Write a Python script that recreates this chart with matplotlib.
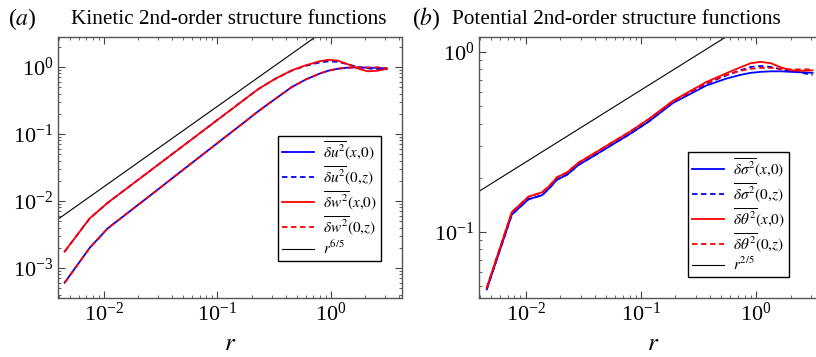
import numpy as np
import matplotlib
matplotlib.use("Agg")
import matplotlib.pyplot as plt
from matplotlib.ticker import LogLocator, NullFormatter

plt.rcParams['font.family'] = ['Liberation Serif', 'DejaVu Serif']
plt.rcParams['mathtext.fontset'] = 'stix'

# ---- panel (a): kinetic structure functions ----
r_a = [0.0045, 0.0075, 0.0108, 0.015, 0.0213, 0.03, 0.042, 0.06, 0.085, 0.12,
       0.17, 0.23, 0.32, 0.45, 0.6, 0.8, 0.95, 1.15, 1.4, 1.75, 2.1, 2.6, 3.1]
du2_x = [6.0e-4, 2.0e-3, 3.9e-3, 6.0e-3, 9.5e-3, 0.0149, 0.0233, 0.0373, 0.059, 0.093,
         0.147, 0.22, 0.33, 0.50, 0.65, 0.80, 0.88, 0.94, 0.975, 0.985, 0.98, 0.965, 0.95]
du2_z = [1.75e-3, 5.5e-3, 9.4e-3, 0.0143, 0.0224, 0.0347, 0.0534, 0.0843, 0.1317, 0.205,
         0.32, 0.47, 0.66, 0.88, 1.04, 1.17, 1.21, 1.19, 1.10, 0.99, 0.95, 0.93, 0.92]
dw2_x = [1.75e-3, 5.5e-3, 9.4e-3, 0.0143, 0.0224, 0.0347, 0.0534, 0.0843, 0.1317, 0.205,
         0.32, 0.47, 0.66, 0.89, 1.06, 1.22, 1.28, 1.24, 1.10, 0.94, 0.86, 0.88, 0.94]
dw2_z = [6.0e-4, 2.0e-3, 3.9e-3, 6.0e-3, 9.5e-3, 0.0149, 0.0233, 0.0373, 0.059, 0.093,
         0.147, 0.22, 0.33, 0.50, 0.65, 0.80, 0.88, 0.94, 0.975, 0.985, 0.975, 0.99, 0.96]
slope_a, amp_a = 6 / 5, 4.1

# ---- panel (b): potential structure functions ----
r_b = [0.0046, 0.0076, 0.0106, 0.0139, 0.0162, 0.0187, 0.0229, 0.0289, 0.0404, 0.0563,
       0.0787, 0.117, 0.19, 0.37, 0.55, 0.73, 0.9, 1.1, 1.35, 1.65, 2.0, 2.5, 3.1]
ds2_x = [0.048, 0.125, 0.152, 0.160, 0.176, 0.195, 0.208, 0.236, 0.268, 0.305,
         0.347, 0.41, 0.52, 0.65, 0.71, 0.745, 0.765, 0.775, 0.78, 0.78, 0.775, 0.77, 0.765]
ds2_z = [0.048, 0.125, 0.152, 0.160, 0.176, 0.195, 0.208, 0.236, 0.268, 0.305,
         0.347, 0.41, 0.525, 0.665, 0.74, 0.79, 0.825, 0.835, 0.825, 0.80, 0.785, 0.765, 0.745]
dt2_x = [0.049, 0.129, 0.157, 0.166, 0.181, 0.201, 0.214, 0.243, 0.276, 0.314,
         0.357, 0.423, 0.535, 0.68, 0.76, 0.82, 0.865, 0.88, 0.865, 0.82, 0.79, 0.785, 0.79]
dt2_z = [0.049, 0.129, 0.157, 0.166, 0.181, 0.201, 0.214, 0.243, 0.276, 0.314,
         0.357, 0.423, 0.53, 0.67, 0.745, 0.785, 0.805, 0.815, 0.815, 0.805, 0.80, 0.80, 0.80]
slope_b, amp_b = 2 / 5, 1.54

xlim = (0.00394, 4.22)

fig = plt.figure(figsize=(8.16, 3.57), dpi=100)
ax1 = fig.add_axes([0.0711, 0.1653, 0.4216, 0.7311])
ax2 = fig.add_axes([0.587, 0.1653, 0.4277, 0.7311])

blue, red = '#0000ff', '#ff0000'
dash = (0, (3, 2))
lw = 1.3


def panel(ax, r, ys, labels, slope, amp, plabel, ylim):
    styles = [(blue, '-'), (blue, dash), (red, '-'), (red, dash)]
    for y, lab, (c, ls) in zip(ys, labels, styles):
        ax.plot(r, y, color=c, ls=ls, lw=lw, label=lab)
    rr = np.array(xlim)
    ax.plot(rr, amp * rr ** slope, color='k', lw=0.8, label=plabel)
    ax.set_xscale('log')
    ax.set_yscale('log')
    ax.set_xlim(*xlim)
    ax.set_ylim(*ylim)
    ax.xaxis.set_major_locator(LogLocator(base=10, numticks=10))
    ax.xaxis.set_minor_locator(LogLocator(base=10, subs=np.arange(2, 10), numticks=20))
    ax.yaxis.set_minor_locator(LogLocator(base=10, subs=np.arange(2, 10), numticks=20))
    ax.xaxis.set_minor_formatter(NullFormatter())
    ax.yaxis.set_minor_formatter(NullFormatter())
    ax.tick_params(which='both', direction='in', top=True, right=True,
                   labelsize=16, color='#444444')
    ax.tick_params(which='major', length=5)
    ax.tick_params(which='minor', length=2.5)
    for s in ax.spines.values():
        s.set_color('#555555')
        s.set_linewidth(1.0)
    ax.set_xlabel(r'$r$', fontsize=18, labelpad=5)


panel(ax1, r_a, [du2_x, du2_z, dw2_x, dw2_z],
      [r'$\overline{\delta u^2}(x{,}0)$', r'$\overline{\delta u^2}(0{,}z)$',
       r'$\overline{\delta w^2}(x{,}0)$', r'$\overline{\delta w^2}(0{,}z)$'],
      slope_a, amp_a, r'$r^{6/5}$', (3.56e-4, 2.8))
panel(ax2, r_b, [ds2_x, ds2_z, dt2_x, dt2_z],
      [r'$\overline{\delta \sigma^2}(x{,}0)$', r'$\overline{\delta \sigma^2}(0{,}z)$',
       r'$\overline{\delta \theta^2}(x{,}0)$', r'$\overline{\delta \theta^2}(0{,}z)$'],
      slope_b, amp_b, r'$r^{2/5}$', (0.043, 1.21))

for ax, anchor in [(ax1, (0.939, 0.142)), (ax2, (0.888, 0.080))]:
    leg = ax.legend(loc='lower right', bbox_to_anchor=anchor, borderaxespad=0,
                    fontsize=11, fancybox=False, framealpha=1, edgecolor='k',
                    handlelength=2.1, labelspacing=0.15, borderpad=0.25,
                    handletextpad=0.6)
    leg.get_frame().set_linewidth(1.0)

fig.text(0.0098, 0.948, r'($a$)', fontsize=17, va='center', ha='left')
fig.text(0.28, 0.945, 'Kinetic 2nd-order structure functions', fontsize=15.3,
         va='center', ha='center')
fig.text(0.505, 0.948, r'($b$)', fontsize=17, va='center', ha='left')
fig.text(0.755, 0.945, 'Potential 2nd-order structure functions', fontsize=15.3,
         va='center', ha='center')

fig.savefig('out.png', dpi=100)
